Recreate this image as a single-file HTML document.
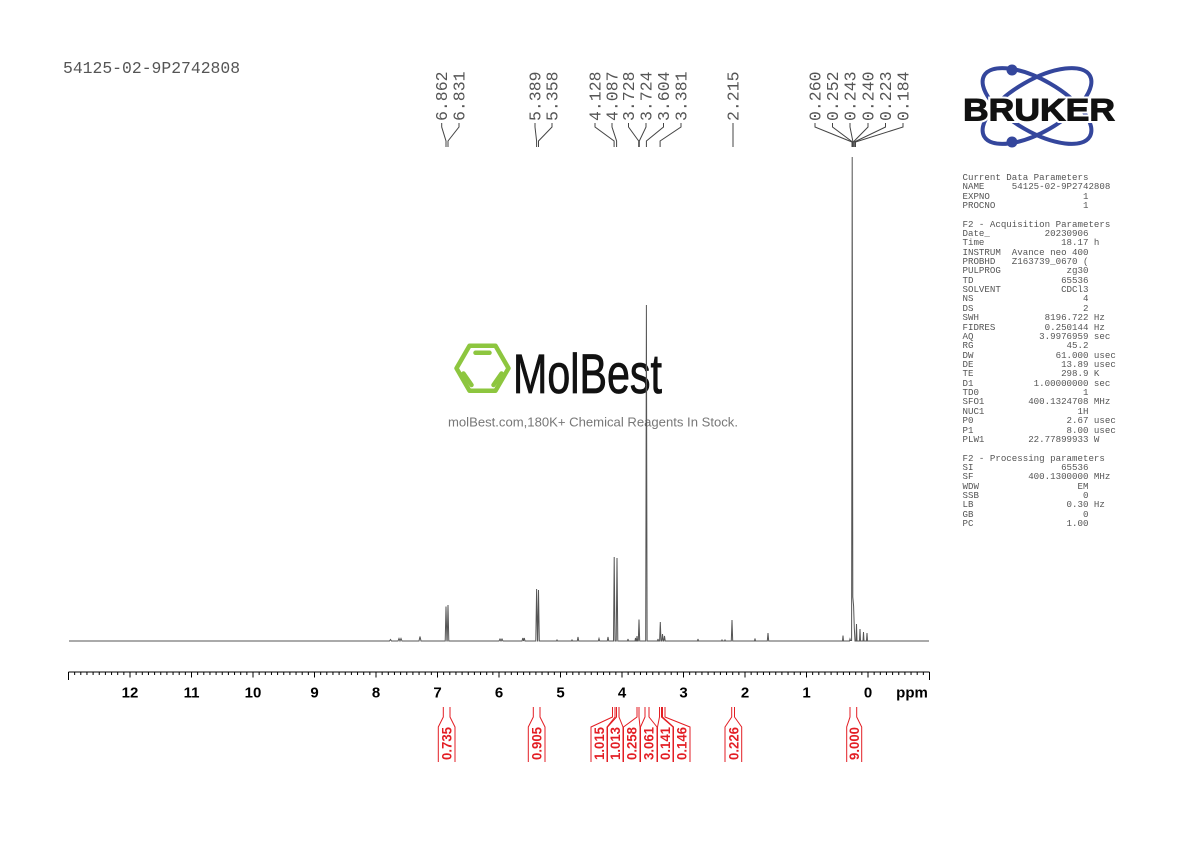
<!DOCTYPE html>
<html>
<head>
<meta charset="utf-8">
<style>
  html, body { margin:0; padding:0; background:#fff; }
  body { width:1190px; height:842px; position:relative; overflow:hidden; }
  svg { position:absolute; left:0; top:0; }
  pre.params {
    position:absolute; left:962.5px; top:172.8px; margin:0;
    font-family:"Liberation Mono", monospace; font-size:9.13px; line-height:9.36px;
    color:#555;
  }
</style>
</head>
<body>
<svg width="1190" height="842" viewBox="0 0 1190 842" xmlns="http://www.w3.org/2000/svg">
  <rect width="1190" height="842" fill="#fff"/>

  <!-- Title -->
  <text x="63" y="73" font-family="Liberation Mono, monospace" font-size="16.4" fill="#555">54125-02-9P2742808</text>

  <!-- Bruker logo -->
  <g fill="none" stroke="#34469c" stroke-width="4">
    <ellipse cx="1037" cy="106" rx="61" ry="26" transform="rotate(30 1037 106)"/>
    <ellipse cx="1037" cy="106" rx="61" ry="26" transform="rotate(-30 1037 106)"/>
  </g>
  <circle cx="1012" cy="70" r="5.5" fill="#34469c"/>
  <circle cx="1012" cy="142" r="5.5" fill="#34469c"/>
  <text x="963" y="120.5" font-family="Liberation Sans, sans-serif" font-weight="bold" font-size="31.5" fill="#fff" stroke="#fff" stroke-width="5" textLength="152" lengthAdjust="spacingAndGlyphs">BRUKER</text>
  <text x="963" y="120.5" font-family="Liberation Sans, sans-serif" font-weight="bold" font-size="31.5" fill="#111" stroke="#111" stroke-width="1" textLength="152" lengthAdjust="spacingAndGlyphs">BRUKER</text>

  <!-- MolBest watermark -->
  <g fill="none" stroke="#8dc63f" stroke-width="4.5" stroke-linejoin="round" stroke-linecap="round">
    <polygon points="508.5,368.3 495.5,390.8 469.5,390.8 456.5,368.3 469.5,345.8 495.5,345.8"/>
    <line x1="475.5" y1="352.8" x2="489.5" y2="352.8"/>
    <line x1="463.5" y1="373.5" x2="471.5" y2="385"/>
    <line x1="501.5" y1="373.5" x2="493.5" y2="385"/>
  </g>
  <text x="513" y="393" font-family="Liberation Sans Narrow, Liberation Sans, sans-serif" font-size="56" fill="#111" stroke="#111" stroke-width="0.8" textLength="149" lengthAdjust="spacingAndGlyphs">MolBest</text>
  <text x="448" y="426.5" font-family="Liberation Sans, sans-serif" font-size="13" fill="#777" textLength="290" lengthAdjust="spacingAndGlyphs">molBest.com,180K+ Chemical Reagents In Stock.</text>

  <!-- Peak labels -->
  <g font-family="Liberation Mono, monospace" font-size="16.5" fill="#555">
    <text transform="translate(447.1,121) rotate(-90)">6.862</text>
    <text transform="translate(464.4,121) rotate(-90)">6.831</text>
    <text transform="translate(540.4,121) rotate(-90)">5.389</text>
    <text transform="translate(557.4,121) rotate(-90)">5.358</text>
    <text transform="translate(600.4,121) rotate(-90)">4.128</text>
    <text transform="translate(617.4,121) rotate(-90)">4.087</text>
    <text transform="translate(633.9,121) rotate(-90)">3.728</text>
    <text transform="translate(651.4,121) rotate(-90)">3.724</text>
    <text transform="translate(668.9,121) rotate(-90)">3.604</text>
    <text transform="translate(686.4,121) rotate(-90)">3.381</text>
    <text transform="translate(738.4,121) rotate(-90)">2.215</text>
    <text transform="translate(820.4,121) rotate(-90)">0.260</text>
    <text transform="translate(837.9,121) rotate(-90)">0.252</text>
    <text transform="translate(855.4,121) rotate(-90)">0.243</text>
    <text transform="translate(873.4,121) rotate(-90)">0.240</text>
    <text transform="translate(890.9,121) rotate(-90)">0.223</text>
    <text transform="translate(908.4,121) rotate(-90)">0.184</text>
  </g>
  <g fill="none" stroke="#444" stroke-width="1">
    <path d="M441.7,123 L441.7,127 L446,141 L446,147"/>
    <path d="M459,123 L459,127 L448,141 L448,147"/>
    <path d="M535,123 L535,127 L536.6,141 L536.6,147"/>
    <path d="M552,123 L552,127 L538.5,141 L538.5,147"/>
    <path d="M595,123 L595,127 L614.1,141 L614.1,147"/>
    <path d="M612,123 L612,127 L616.6,141 L616.6,147"/>
    <path d="M628.5,123 L628.5,127 L638.7,141 L638.7,147"/>
    <path d="M646,123 L646,127 L639.3,141 L639.3,147"/>
    <path d="M663.5,123 L663.5,127 L646.4,141 L646.4,147"/>
    <path d="M681,123 L681,127 L660.1,141 L660.1,147"/>
    <path d="M733,123 L733,147"/>
    <path d="M815,123 L815,127 L852,142 L852,147"/>
    <path d="M832.5,123 L832.5,127 L852.5,142 L852.5,147"/>
    <path d="M850,123 L850,127 L853,142 L853,147"/>
    <path d="M868,123 L868,127 L853.3,142 L853.3,147"/>
    <path d="M885.5,123 L885.5,127 L854.3,142 L854.3,147"/>
    <path d="M903,123 L903,127 L855.5,142 L855.5,147"/>
  </g>

  <!-- Spectrum -->
  <path fill="none" stroke="#555" stroke-width="1" stroke-linejoin="miter" d="
M69,641
L389.5,641 L390.5,639.5 L391.5,641
L398,641 L399,638.5 L400,641 L401,638.5 L402,641
L419,641 L420,636.5 L421,641
L445.2,641 L446,606.5 L446.9,641 L447.2,641 L448,605 L448.8,641
L499,641 L500,639 L501,641 L502,639 L503,641
L522,641 L522.8,638 L523.5,641 L524.3,638 L525,641
L535.8,641 L536.6,589 L537.5,641 L537.7,641 L538.5,590 L539.3,641
L556.5,641 L557,640 L557.5,641
L571.5,641 L572,640 L572.5,641
L577.3,641 L578,637 L578.7,641
L598.3,641 L599,638.5 L599.7,641
L607.3,641 L608,637 L608.7,641
L613.5,641 L614.2,557 L615,641 L616.2,641 L617,558 L617.8,641
L627.5,641 L628,639 L628.5,641
L635,641 L635.5,638 L636,641 L636.5,641 L637,636 L637.5,641 L638.3,641 L639,619.5 L639.7,641
L645.7,641 L646.4,305 L647.1,641
L657.5,641 L658,639 L658.5,641 L659.6,641 L660.3,622 L661,641 L661.8,641 L662.5,634 L663.2,641 L663.8,641 L664.5,636 L665.2,641
L697.5,641 L698,639 L698.5,641
L721.5,641 L722,640 L722.5,641 L724.5,641 L725,640 L725.5,641
L731.3,641 L732,620 L732.7,641
L754.5,641 L755,638.5 L755.5,641
L767.3,641 L768,633 L768.7,641
L842.5,641 L843,635.5 L843.5,641
L849.5,641 L850,639 L850.5,640.5
L851.6,640.5 L852.2,157 L852.8,597 L853.6,606 L854.3,628 L855,641
L856,641 L856.5,624 L857,641
L859.5,641 L860,629 L860.5,641
L863,641 L863.5,632 L864,641
L866.5,641 L867,633 L867.5,641
L929,641"/>

  <!-- Axis -->
  <g stroke="#000" fill="none">
    <line x1="68.5" y1="672" x2="929.5" y2="672" stroke-width="1"/>
    <line x1="68" y1="673.5" x2="930" y2="673.5" stroke-width="3" stroke-dasharray="1 5.15"/>
    <line x1="68.5" y1="672" x2="68.5" y2="680" stroke-width="1"/>
    <line x1="929.5" y1="672" x2="929.5" y2="680" stroke-width="1"/>
    <g stroke-width="1">
      <line x1="130" y1="672" x2="130" y2="677.5"/>
      <line x1="191.5" y1="672" x2="191.5" y2="677.5"/>
      <line x1="253" y1="672" x2="253" y2="677.5"/>
      <line x1="314.5" y1="672" x2="314.5" y2="677.5"/>
      <line x1="376" y1="672" x2="376" y2="677.5"/>
      <line x1="437.5" y1="672" x2="437.5" y2="677.5"/>
      <line x1="499" y1="672" x2="499" y2="677.5"/>
      <line x1="560.5" y1="672" x2="560.5" y2="677.5"/>
      <line x1="622" y1="672" x2="622" y2="677.5"/>
      <line x1="683.5" y1="672" x2="683.5" y2="677.5"/>
      <line x1="745" y1="672" x2="745" y2="677.5"/>
      <line x1="806.5" y1="672" x2="806.5" y2="677.5"/>
      <line x1="868" y1="672" x2="868" y2="677.5"/>
    </g>
  </g>
  <g font-family="Liberation Sans, sans-serif" font-weight="bold" font-size="15" fill="#000" text-anchor="middle">
    <text x="130" y="697.7">12</text>
    <text x="191.5" y="697.7">11</text>
    <text x="253" y="697.7">10</text>
    <text x="314.5" y="697.7">9</text>
    <text x="376" y="697.7">8</text>
    <text x="437.5" y="697.7">7</text>
    <text x="499" y="697.7">6</text>
    <text x="560.5" y="697.7">5</text>
    <text x="622" y="697.7">4</text>
    <text x="683.5" y="697.7">3</text>
    <text x="745" y="697.7">2</text>
    <text x="806.5" y="697.7">1</text>
    <text x="868" y="697.7">0</text>
    <text x="912" y="697.7">ppm</text>
  </g>

  <!-- Integrals -->
  <g fill="none" stroke="#e31e24" stroke-width="1">
    <path d="M443.3,707 L443.3,717 L438.3,727 L438.3,762 M450,707 L450,717 L455,727 L455,762"/>
    <path d="M533.3,707 L533.3,717 L528.3,727 L528.3,762 M540,707 L540,717 L545,727 L545,762"/>
    <path d="M612.5,707 L612.5,717 L591,727 L591,762 M615,707 L615,717 L607,727 L607,762"/>
    <path d="M616.5,707 L616.5,717 L607.5,727 L607.5,762 M619,707 L619,717 L623,727 L623,762"/>
    <path d="M637,707 L637,717 L623.5,727 L623.5,762 M639,707 L639,717 L640,727 L640,762"/>
    <path d="M645,707 L645,717 L640.5,727 L640.5,762 M649,707 L649,717 L657,727 L657,762"/>
    <path d="M659.5,707 L659.5,717 L657.5,727 L657.5,762 M661.5,707 L661.5,717 L673,727 L673,762"/>
    <path d="M662.5,707 L662.5,717 L673.5,727 L673.5,762 M665,707 L665,717 L690,727 L690,762"/>
    <path d="M731.7,707 L731.7,717 L725,727 L725,762 M734.5,707 L734.5,717 L741.7,727 L741.7,762"/>
    <path d="M850,707 L850,717 L846.7,727 L846.7,762 M856.7,707 L856.7,717 L861.7,727 L861.7,762"/>
  </g>
  <g font-family="Liberation Sans, sans-serif" font-weight="bold" font-size="14" fill="#e31e24">
    <text transform="translate(451.7,760) rotate(-90)" textLength="33" lengthAdjust="spacingAndGlyphs">0.735</text>
    <text transform="translate(541.7,760) rotate(-90)" textLength="33" lengthAdjust="spacingAndGlyphs">0.905</text>
    <text transform="translate(604,760) rotate(-90)" textLength="33" lengthAdjust="spacingAndGlyphs">1.015</text>
    <text transform="translate(620,760) rotate(-90)" textLength="33" lengthAdjust="spacingAndGlyphs">1.013</text>
    <text transform="translate(636.7,760) rotate(-90)" textLength="33" lengthAdjust="spacingAndGlyphs">0.258</text>
    <text transform="translate(653.5,760) rotate(-90)" textLength="33" lengthAdjust="spacingAndGlyphs">3.061</text>
    <text transform="translate(670,760) rotate(-90)" textLength="33" lengthAdjust="spacingAndGlyphs">0.141</text>
    <text transform="translate(686.7,760) rotate(-90)" textLength="33" lengthAdjust="spacingAndGlyphs">0.146</text>
    <text transform="translate(738.3,760) rotate(-90)" textLength="33" lengthAdjust="spacingAndGlyphs">0.226</text>
    <text transform="translate(859,760) rotate(-90)" textLength="33" lengthAdjust="spacingAndGlyphs">9.000</text>
  </g>
</svg>

<pre class="params">Current Data Parameters
NAME     54125-02-9P2742808
EXPNO                 1
PROCNO                1

F2 - Acquisition Parameters
Date_          20230906
Time              18.17 h
INSTRUM  Avance neo 400
PROBHD   Z163739_0670 (
PULPROG            zg30
TD                65536
SOLVENT           CDCl3
NS                    4
DS                    2
SWH            8196.722 Hz
FIDRES         0.250144 Hz
AQ            3.9976959 sec
RG                 45.2
DW               61.000 usec
DE                13.89 usec
TE                298.9 K
D1           1.00000000 sec
TD0                   1
SFO1        400.1324708 MHz
NUC1                 1H
P0                 2.67 usec
P1                 8.00 usec
PLW1        22.77899933 W

F2 - Processing parameters
SI                65536
SF          400.1300000 MHz
WDW                  EM
SSB                   0
LB                 0.30 Hz
GB                    0
PC                 1.00</pre>
</body>
</html>
